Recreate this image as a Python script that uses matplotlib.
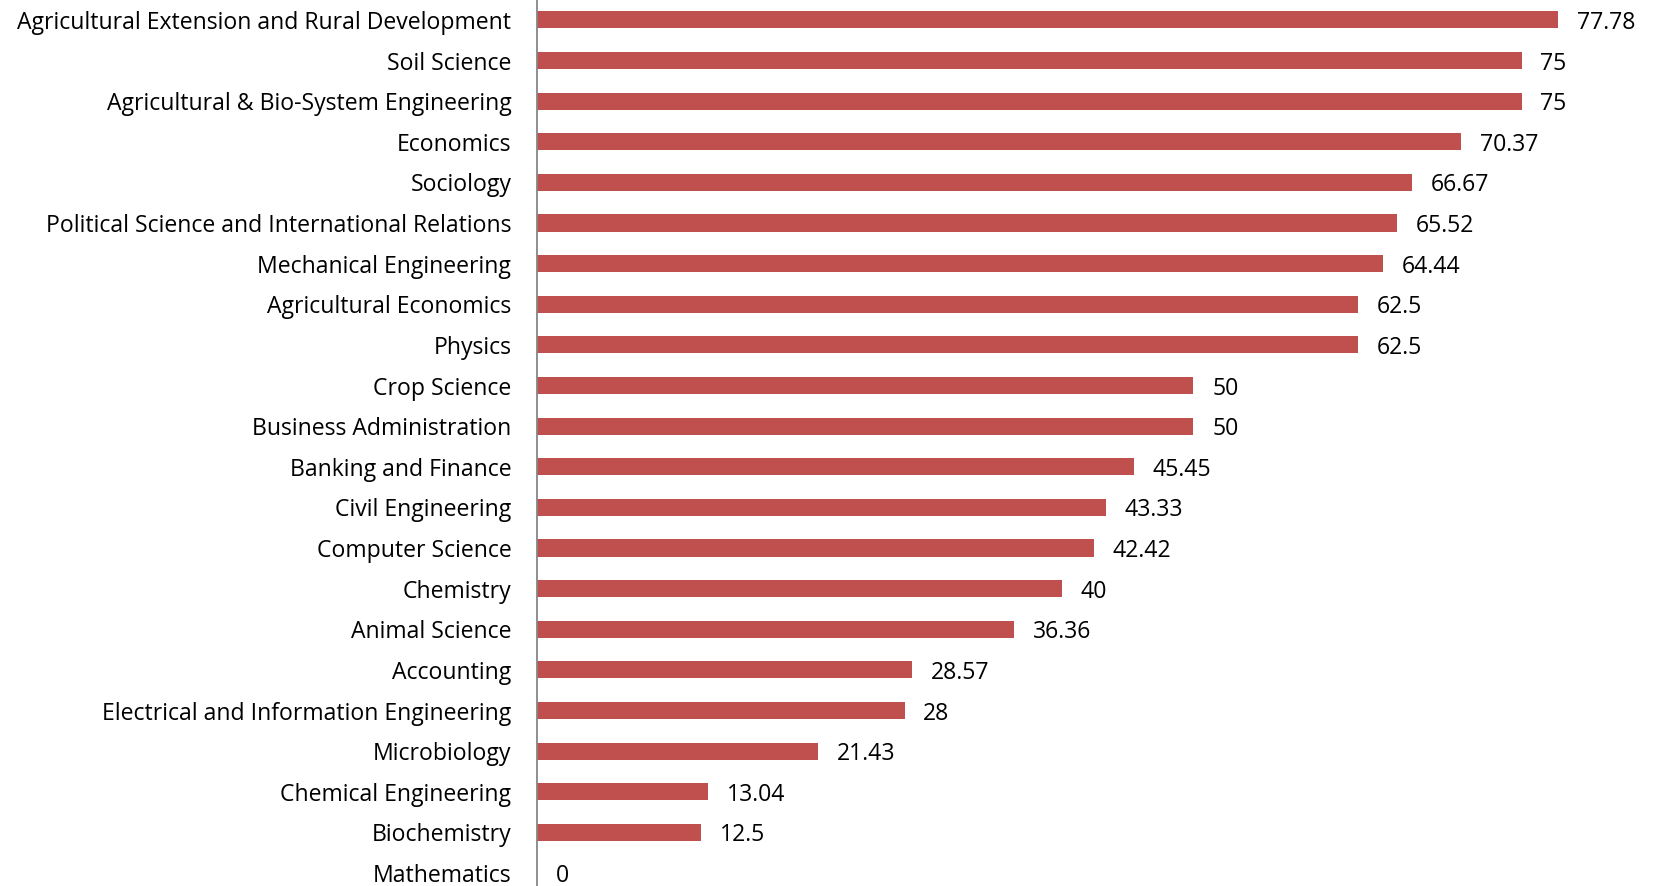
import matplotlib.pyplot as plt

subjects = [
    "Agricultural Extension and Rural Development",
    "Soil Science",
    "Agricultural & Bio-System Engineering",
    "Economics",
    "Sociology",
    "Political Science and International Relations",
    "Mechanical Engineering",
    "Agricultural Economics",
    "Physics",
    "Crop Science",
    "Business Administration",
    "Banking and Finance",
    "Civil Engineering",
    "Computer Science",
    "Chemistry",
    "Animal Science",
    "Accounting",
    "Electrical and Information Engineering",
    "Microbiology",
    "Chemical Engineering",
    "Biochemistry",
    "Mathematics",
]
values = [77.78, 75, 75, 70.37, 66.67, 65.52, 64.44, 62.5, 62.5, 50, 50,
          45.45, 43.33, 42.42, 40, 36.36, 28.57, 28, 21.43, 13.04, 12.5, 0]
value_labels = ["77.78", "75", "75", "70.37", "66.67", "65.52", "64.44", "62.5",
                "62.5", "50", "50", "45.45", "43.33", "42.42", "40", "36.36",
                "28.57", "28", "21.43", "13.04", "12.5", "0"]

plt.rcParams['font.family'] = ['Open Sans', 'DejaVu Sans']

fig = plt.figure(figsize=(16.53, 8.86), dpi=100)
ax = fig.add_axes([537 / 1653, 0, 1 - 537 / 1653, 1])

pos = range(len(subjects))
bars = ax.barh(pos, values, height=0.42, color="#C0504D")

ax.set_xlim(0, 85)
ax.set_ylim(21.32, -0.49)

ax.set_yticks(list(pos))
ax.set_yticklabels(subjects, fontsize=16.6)
ax.tick_params(axis='y', length=0, pad=18.5)
ax.set_xticks([])

for s in ['top', 'right', 'bottom']:
    ax.spines[s].set_visible(False)
ax.spines['left'].set_color("#868686")
ax.spines['left'].set_linewidth(1.3)

# value labels next to each bar
for b, lbl in zip(bars, value_labels):
    ax.annotate(lbl, (b.get_width(), b.get_y() + b.get_height() / 2),
                xytext=(13.5, 0), textcoords='offset points',
                va='center_baseline', ha='left', fontsize=16.6)

fig.savefig("out.png", dpi=100)
